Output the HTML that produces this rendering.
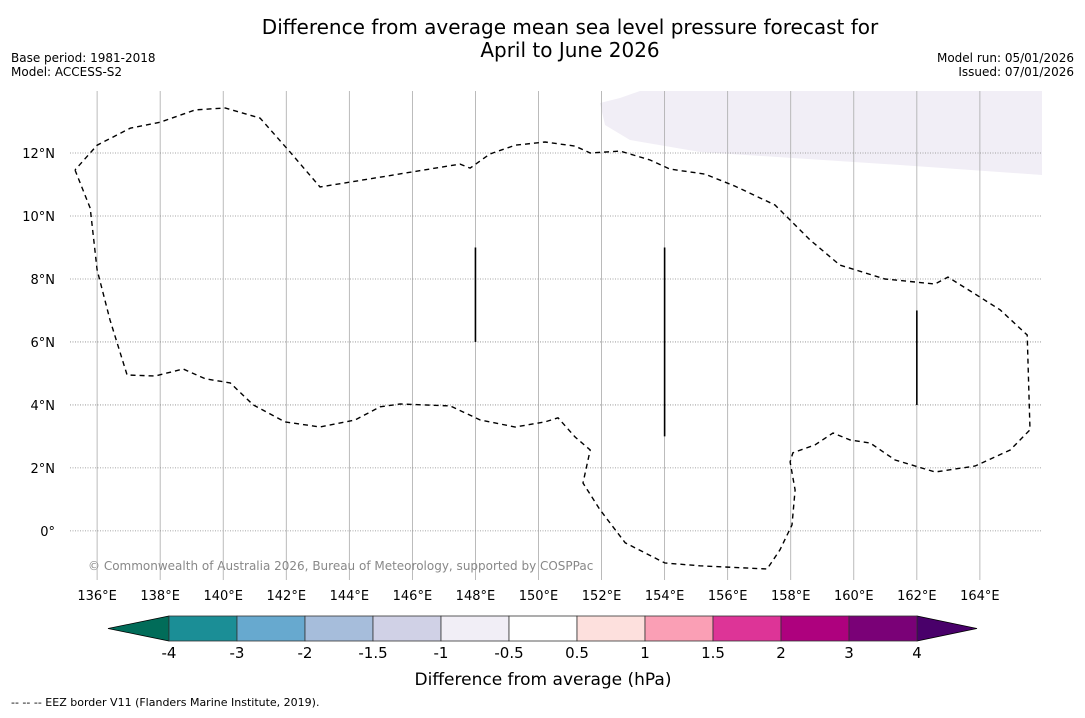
<!DOCTYPE html>
<html><head><meta charset="utf-8"><style>
body{margin:0;background:#fff;width:1085px;height:713px;overflow:hidden;font-family:"Liberation Sans","DejaVu Sans",sans-serif}
</style></head><body>
<svg id="c" width="1085" height="713" xmlns="http://www.w3.org/2000/svg" style="font-family:'DejaVu Sans','Liberation Sans',sans-serif">
<text x="570" y="34" font-size="20" text-anchor="middle">Difference from average mean sea level pressure forecast for</text>
<text x="570" y="57" font-size="20" text-anchor="middle">April to June 2026</text>
<text x="11" y="62" font-size="12">Base period: 1981-2018</text>
<text x="11" y="76" font-size="12">Model: ACCESS-S2</text>
<text x="1074" y="62" font-size="12" text-anchor="end">Model run: 05/01/2026</text>
<text x="1074" y="76" font-size="12" text-anchor="end">Issued: 07/01/2026</text>
<g id="map"></g>
<g id="cb"></g>
<text x="543" y="685" font-size="17" text-anchor="middle">Difference from average (hPa)</text>
<text x="11" y="706" font-size="11">--  --  -- EEZ border V11 (Flanders Marine Institute, 2019).</text>
</svg>
<script>
const lonTicks=[136,138,140,142,144,146,148,150,152,154,156,158,160,162,164];
const latTicks=[0,2,4,6,8,10,12];
const cbBounds=["-4","-3","-2","-1.5","-1","-0.5","0.5","1","1.5","2","3","4"];
const cbColors=["#1b8e96","#67a9cf","#a6bddb","#d0d1e6","#f1eef6","#ffffff","#fde0dd","#fa9fb5","#dd3497","#ae017e","#7a0177"];
const eezLon=[135.30,135.78,136.00,136.41,136.95,137.84,138.73,139.43,140.22,140.95,141.96,143.07,144.18,144.98,145.61,147.20,148.15,149.26,150.21,150.62,151.16,151.64,151.41,151.95,152.75,154.01,155.12,157.25,157.66,158.04,158.14,157.98,158.07,158.77,159.34,159.88,160.52,161.31,162.58,163.85,164.96,165.59,165.50,164.64,163.85,162.99,162.58,160.99,159.56,158.61,157.50,156.23,155.28,154.17,153.54,152.59,151.64,151.16,150.21,149.26,148.46,147.83,147.51,143.07,142.12,141.17,140.06,139.11,138.00,137.05,136.00,135.30];
const eezLat=[11.46,10.25,8.29,6.70,4.95,4.92,5.14,4.83,4.70,4.00,3.46,3.30,3.52,3.94,4.03,3.97,3.52,3.30,3.46,3.59,2.98,2.57,1.52,0.67,-0.38,-1.02,-1.11,-1.21,-0.60,0.19,1.30,2.19,2.48,2.73,3.11,2.89,2.79,2.25,1.87,2.06,2.57,3.21,6.22,7.02,7.52,8.06,7.84,8.00,8.44,9.24,10.35,10.95,11.33,11.49,11.78,12.06,12.00,12.22,12.35,12.25,11.97,11.52,11.65,10.92,12.03,13.11,13.43,13.37,12.98,12.79,12.25,11.46];
const seg=[[148,6,9],[154,3,9],[162,4,7]];
const NS="http://www.w3.org/2000/svg";
const L=70,R=1042,T=91,B=580,lon0=135.14,lon1=165.97,lat0=-1.56,lat1=13.97;
const X=v=>L+(v-lon0)/(lon1-lon0)*(R-L);
const Y=v=>B-(v-lat0)/(lat1-lat0)*(B-T);
const map=document.getElementById('map');
function mk(tag,at,par){const e=document.createElementNS(NS,tag);for(const k in at)e.setAttribute(k,at[k]);(par||map).appendChild(e);return e;}
let hp=mk('polygon',{points:"600,103 605,125 630,140 700,152 900,165 1042,175 1042,91 640,91 620,98",fill:"#f1eef6"});


lonTicks.forEach(v=>{const x=X(v);
let g=mk('line',{x1:x,x2:x,y1:T,y2:B,stroke:'#aaa','stroke-width':0.8});


let t=mk('text',{x:x,y:600,'font-size':13,'text-anchor':'middle'});t.textContent=v+'°E';

});
latTicks.forEach(v=>{const y=Y(v);
let g=mk('line',{x1:L,x2:R,y1:y,y2:y,stroke:'#888','stroke-width':0.8,'stroke-dasharray':'1,1.5'});


let t=mk('text',{x:55,y:y+5,'font-size':13,'text-anchor':'end'});t.textContent=v===0?'0°':v+'°N';

});
let pts=eezLon.map((v,i)=>X(v).toFixed(1)+','+Y(eezLat[i]).toFixed(1)).join(' ');
let eez=mk('polyline',{points:pts,fill:'none',stroke:'#000','stroke-width':1.4,'stroke-dasharray':'5,4'});


seg.forEach(s=>{let l=mk('line',{x1:X(s[0]),x2:X(s[0]),y1:Y(s[1]),y2:Y(s[2]),stroke:'#000','stroke-width':1.6});

});
let cp=mk('text',{x:88,y:570,'font-size':12,fill:'#888'});cp.textContent='© Commonwealth of Australia 2026, Bureau of Meteorology, supported by COSPPac';


const cb=document.getElementById('cb');
const cx0=169,cx1=917,cy=616,ch=25,w=(cx1-cx0)/cbColors.length;
let lt=mk('polygon',{points:`108,${cy+ch/2} ${cx0},${cy} ${cx0},${cy+ch}`,fill:'#016c59',stroke:'#000','stroke-width':0.8},cb);


let rt=mk('polygon',{points:`977,${cy+ch/2} ${cx1},${cy} ${cx1},${cy+ch}`,fill:'#49006a',stroke:'#000','stroke-width':0.8},cb);


cbColors.forEach((c,i)=>{let r=mk('rect',{x:cx0+i*w,y:cy,width:w,height:ch,fill:c,stroke:'#333','stroke-width':0.8},cb);

});
cbBounds.forEach((b,i)=>{let t=mk('text',{x:cx0+i*w,y:658,'font-size':15,'text-anchor':'middle'},cb);t.textContent=b;

});
</script>
</body></html>
